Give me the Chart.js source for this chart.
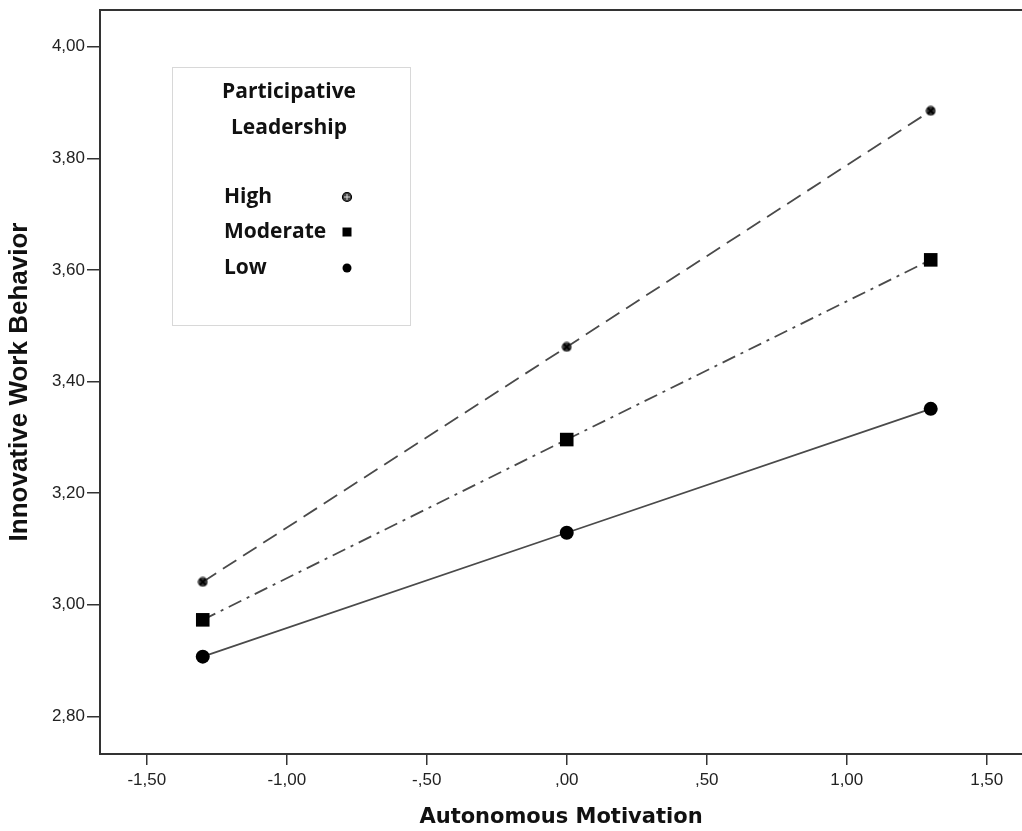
<!DOCTYPE html>
<html>
<head>
<meta charset="utf-8">
<script src="https://cdn.jsdelivr.net/npm/chart.js@4.4.1/dist/chart.umd.min.js"></script>
<style>
  html, body { margin: 0; padding: 0; background: #fff; }
  #wrap { width: 1022px; height: 831px; }
</style>
</head>
<body>
<div id="wrap"><canvas id="c" width="1022" height="831"></canvas></div>
<script>
/* ---------- data ------------------------------------------------------- */
const xValues   = [-1.3, 0, 1.3];
const highVals  = [3.041, 3.462, 3.885];
const modVals   = [2.973, 3.296, 3.618];
const lowVals   = [2.907, 3.129, 3.351];
const seriesNames = ['High', 'Moderate', 'Low'];
const legendTitle = ['Participative', 'Leadership'];
const xTicks = [-1.5, -1.0, -0.5, 0, 0.5, 1.0, 1.5];
const yTicks = [2.8, 3.0, 3.2, 3.4, 3.6, 3.8, 4.0];

/* helper: SPSS style comma decimals ",50" "-1,00" ---------------------- */
const fmt = v => v.toFixed(2).replace('.', ',').replace(/^(-?)0,/, '$1,');
const pts = ys => xValues.map((x, i) => ({ x, y: ys[i] }));

/* marker for "High": dark dot with a cross in it ------------------------ */
function highMarker(size) {
  const c = document.createElement('canvas');
  c.width = c.height = size;
  const g = c.getContext('2d');
  const r = size / 2;
  g.beginPath(); g.arc(r, r, r - 0.5, 0, Math.PI * 2);
  g.fillStyle = '#3a3a3a'; g.fill();
  g.strokeStyle = '#000'; g.lineWidth = 1.8;
  g.beginPath();
  g.moveTo(2.5, 2.5); g.lineTo(size - 2.5, size - 2.5);
  g.moveTo(size - 2.5, 2.5); g.lineTo(2.5, size - 2.5);
  g.stroke();
  return c;
}

/* frame line on top of plot area -------------------------------------- */
const topFrame = {
  id: 'topFrame',
  afterDraw(chart) {
    const { ctx, chartArea: a } = chart;
    ctx.save();
    ctx.strokeStyle = '#333'; ctx.lineWidth = 2;
    ctx.beginPath(); ctx.moveTo(a.left, a.top); ctx.lineTo(a.right, a.top); ctx.stroke();
    ctx.restore();
  }
};

/* boxed legend inside the plot ---------------------------------------- */
const boxLegend = {
  id: 'boxLegend',
  afterDraw(chart) {
    const ctx = chart.ctx;
    const bx = 172, by = 67, bw = 238, bh = 258;
    ctx.save();
    ctx.fillStyle = '#fff';
    ctx.fillRect(bx, by, bw, bh);
    ctx.strokeStyle = '#d8d8d8'; ctx.lineWidth = 1;
    ctx.strokeRect(bx + 0.5, by + 0.5, bw, bh);

    ctx.fillStyle = '#111';
    ctx.font = 'bold 21px "Open Sans"';
    ctx.textBaseline = 'middle';
    ctx.textAlign = 'center';
    ctx.fillText(legendTitle[0], 289, 92);
    ctx.fillText(legendTitle[1], 289, 128);

    ctx.textAlign = 'left';
    const rows = [197, 232, 268];
    seriesNames.forEach((name, i) => {
      ctx.fillStyle = '#111';
      ctx.fillText(name, 224, rows[i]);
      const mx = 347, my = rows[i];
      ctx.fillStyle = '#000';
      if (i === 0) {
        ctx.beginPath(); ctx.arc(mx, my, 4.5, 0, Math.PI * 2);
        ctx.fillStyle = '#444'; ctx.fill();
        ctx.strokeStyle = '#000'; ctx.lineWidth = 1.2; ctx.stroke();
        ctx.strokeStyle = '#ddd'; ctx.lineWidth = 1;
        ctx.beginPath();
        ctx.moveTo(mx - 3, my); ctx.lineTo(mx + 3, my);
        ctx.moveTo(mx, my - 3); ctx.lineTo(mx, my + 3);
        ctx.stroke();
      } else if (i === 1) {
        ctx.fillRect(mx - 4.5, my - 4.5, 9, 9);
      } else {
        ctx.beginPath(); ctx.arc(mx, my, 4.5, 0, Math.PI * 2); ctx.fill();
      }
    });
    ctx.restore();
  }
};

const lineCol = '#4a4a4a';

new Chart(document.getElementById('c'), {
  type: 'scatter',
  data: {
    datasets: [
      {
        label: seriesNames[0], data: pts(highVals), showLine: true,
        borderColor: lineCol, borderWidth: 1.8, borderDash: [16, 8],
        pointStyle: highMarker(11), pointRadius: 5.5
      },
      {
        label: seriesNames[1], data: pts(modVals), showLine: true,
        borderColor: lineCol, borderWidth: 1.8, borderDash: [14, 6, 3, 6],
        pointStyle: 'rect', pointRadius: 9.6,
        pointBackgroundColor: '#000', pointBorderColor: '#000', pointBorderWidth: 0
      },
      {
        label: seriesNames[2], data: pts(lowVals), showLine: true,
        borderColor: lineCol, borderWidth: 1.8,
        pointStyle: 'circle', pointRadius: 7,
        pointBackgroundColor: '#000', pointBorderColor: '#000', pointBorderWidth: 0
      }
    ]
  },
  options: {
    responsive: false,
    animation: false,
    layout: { autoPadding: false, padding: { top: 10, left: 0, right: 0, bottom: 0 } },
    plugins: { legend: { display: false }, tooltip: { enabled: false } },
    scales: {
      x: {
        type: 'linear', min: -1.667, max: 1.626,
        afterBuildTicks: s => { s.ticks = xTicks.map(value => ({ value })); },
        afterFit: s => { s.height = 77; s.paddingLeft = 0; s.paddingRight = 0; },
        grid: { drawOnChartArea: false, drawTicks: true, tickLength: 11, color: '#333', lineWidth: 1.5 },
        border: { display: true, color: '#333', width: 2 },
        ticks: {
          callback: v => fmt(v), autoSkip: false, maxRotation: 0, padding: 5,
          color: '#222', font: { family: '"Liberation Sans", Arial', size: 17 }
        },
        title: {
          display: true, text: 'Autonomous Motivation', color: '#111',
          font: { family: '"DejaVu Sans"', size: 21, weight: 'bold' },
          padding: { top: 0, bottom: 1 }
        }
      },
      y: {
        type: 'linear', min: 2.7326, max: 4.0657,
        afterBuildTicks: s => { s.ticks = yTicks.map(value => ({ value })); },
        afterFit: s => { s.width = 100; s.paddingTop = 0; s.paddingBottom = 0; },
        grid: { drawOnChartArea: false, drawTicks: true, tickLength: 13, color: '#333', lineWidth: 1.5 },
        border: { display: true, color: '#333', width: 2 },
        ticks: {
          callback: v => fmt(v), autoSkip: false, padding: 2,
          color: '#222', font: { family: '"Liberation Sans", Arial', size: 17 }
        },
        title: {
          display: true, text: 'Innovative Work Behavior', color: '#111',
          font: { family: '"Liberation Sans", Arial', size: 26, weight: 'bold' },
          padding: { top: 4, bottom: 0 }
        }
      }
    }
  },
  plugins: [topFrame, boxLegend]
});
</script>
</body>
</html>
